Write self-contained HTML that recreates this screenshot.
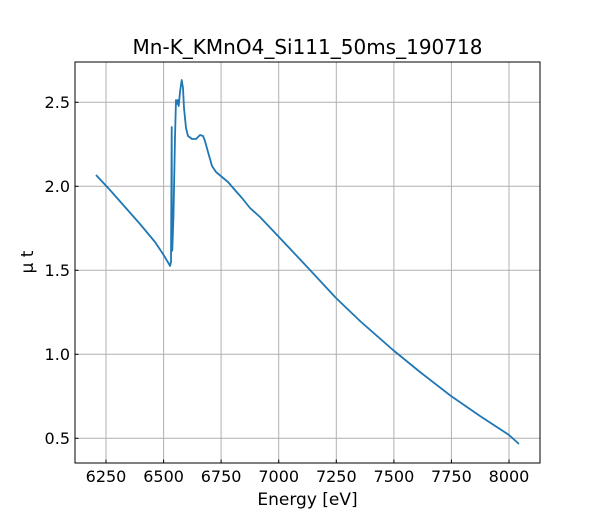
<!DOCTYPE html>
<html><head><style>body{margin:0;background:#fff}svg{display:block}text{font-family:"DejaVu Sans","Liberation Sans",sans-serif}</style></head>
<body>
<svg width="600" height="520" xmlns="http://www.w3.org/2000/svg">
<rect width="600" height="520" fill="#fff"/>
<g stroke="#b0b0b0" stroke-width="1">
<line x1="106" y1="62" x2="106" y2="463"/><line x1="163.6" y1="62" x2="163.6" y2="463"/><line x1="221.1" y1="62" x2="221.1" y2="463"/><line x1="278.7" y1="62" x2="278.7" y2="463"/><line x1="336.3" y1="62" x2="336.3" y2="463"/><line x1="393.9" y1="62" x2="393.9" y2="463"/><line x1="451.4" y1="62" x2="451.4" y2="463"/><line x1="509" y1="62" x2="509" y2="463"/>
<line x1="75" y1="102.3" x2="540" y2="102.3"/><line x1="75" y1="186.3" x2="540" y2="186.3"/><line x1="75" y1="270.3" x2="540" y2="270.3"/><line x1="75" y1="354.3" x2="540" y2="354.3"/><line x1="75" y1="438.3" x2="540" y2="438.3"/>
</g>
<polyline fill="none" stroke="#1f77b4" stroke-width="1.8" stroke-linejoin="round" points="96,175 110,190 125,207 140,224 155,242 163,254 169,264 170,266 171,262 171.7,127 171.9,251 172.3,250 173.5,215 175,137 176,100 177,104 178,100 178.7,106 180,92 181.7,80 183,88 184,108 186,128 188,136 192,139 196,139 200,135 203,136 205,141 208,152 212,166 216,172 222,177 228,182 234,189 242,198 250,208 260,217 278,236 295,254 310,270 336,298 360,321 393,350 420,372 451,396 480,416 509,435 519,444"/>
<rect x="75" y="62" width="465" height="401" fill="none" stroke="#000" stroke-width="1"/>
<g stroke="#000" stroke-width="1">
<line x1="106" y1="463" x2="106" y2="459.5"/><line x1="163.6" y1="463" x2="163.6" y2="459.5"/><line x1="221.1" y1="463" x2="221.1" y2="459.5"/><line x1="278.7" y1="463" x2="278.7" y2="459.5"/><line x1="336.3" y1="463" x2="336.3" y2="459.5"/><line x1="393.9" y1="463" x2="393.9" y2="459.5"/><line x1="451.4" y1="463" x2="451.4" y2="459.5"/><line x1="509" y1="463" x2="509" y2="459.5"/>
<line x1="75" y1="102.3" x2="78.5" y2="102.3"/><line x1="75" y1="186.3" x2="78.5" y2="186.3"/><line x1="75" y1="270.3" x2="78.5" y2="270.3"/><line x1="75" y1="354.3" x2="78.5" y2="354.3"/><line x1="75" y1="438.3" x2="78.5" y2="438.3"/>
</g>
<g font-size="16" fill="#000" text-anchor="middle">
<text x="106" y="482">6250</text><text x="163.6" y="482">6500</text><text x="221.1" y="482">6750</text><text x="278.7" y="482">7000</text><text x="336.3" y="482">7250</text><text x="393.9" y="482">7500</text><text x="451.4" y="482">7750</text><text x="509" y="482">8000</text>
</g>
<g font-size="16" fill="#000" text-anchor="end">
<text x="70" y="108">2.5</text><text x="70" y="192">2.0</text><text x="70" y="276">1.5</text><text x="70" y="360">1.0</text><text x="70" y="444">0.5</text>
</g>
<text x="307.5" y="505" font-size="17" text-anchor="middle">Energy [eV]</text>
<text transform="translate(33,262) rotate(-90)" font-size="17" text-anchor="middle">μ t</text>
<text x="307.5" y="54" font-size="20" text-anchor="middle">Mn-K_KMnO4_Si111_50ms_190718</text>
</svg>
</body></html>
